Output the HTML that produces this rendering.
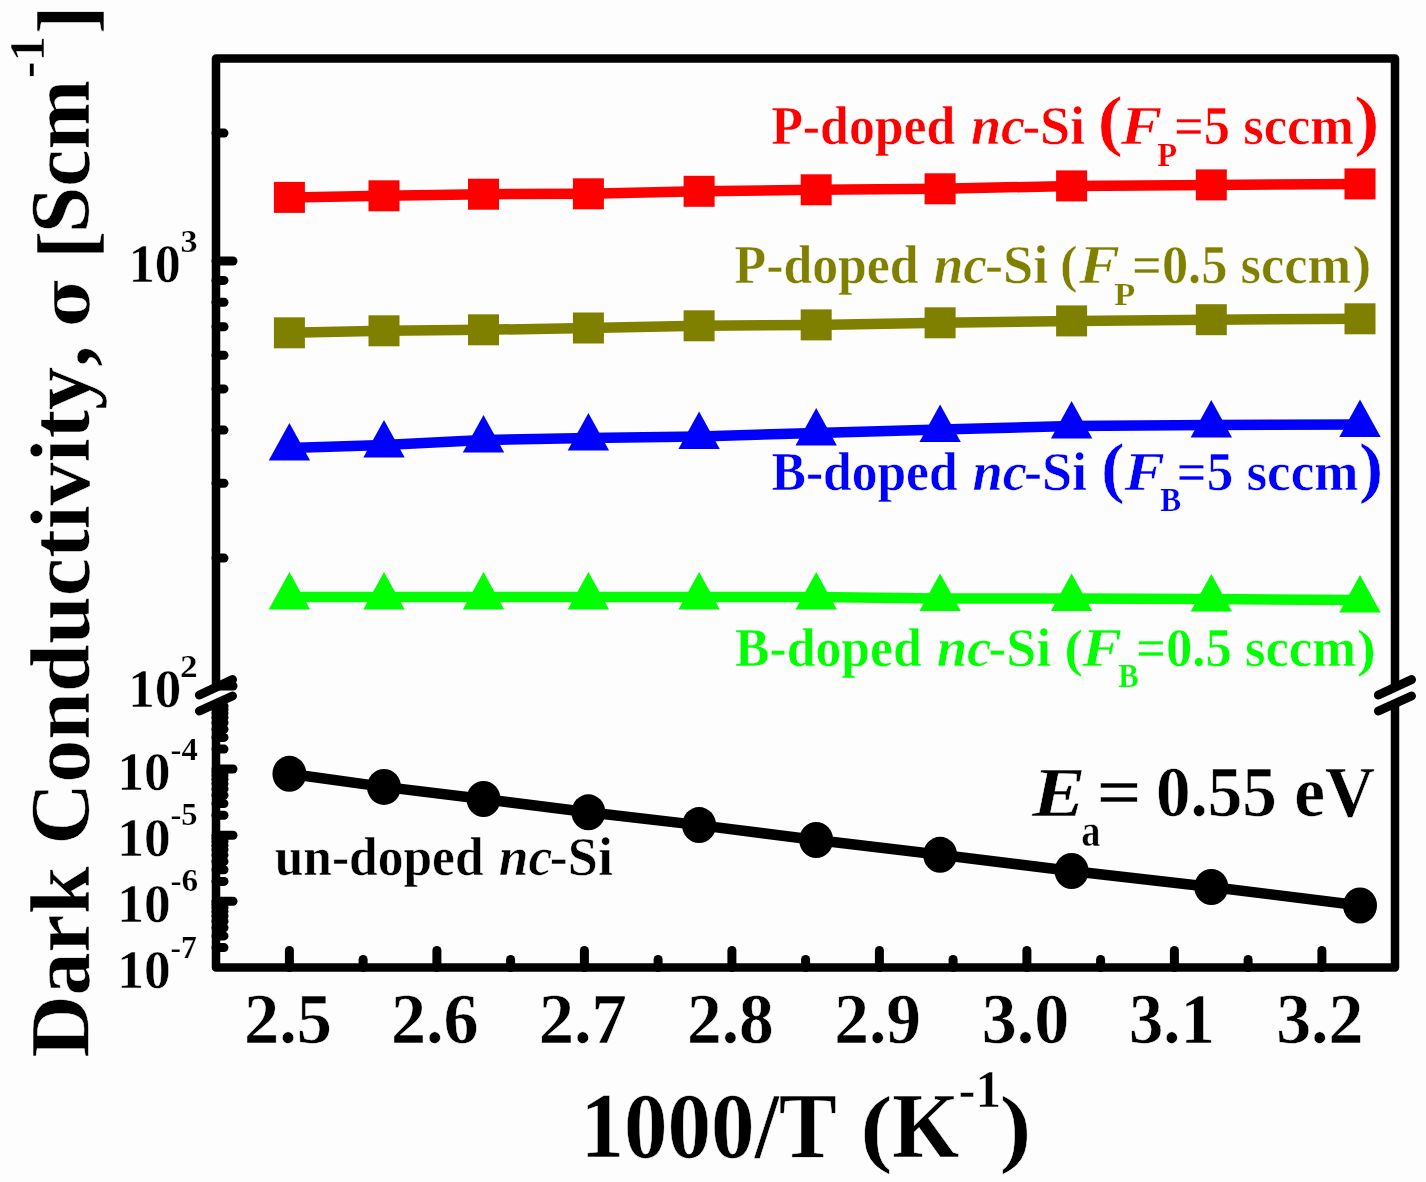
<!DOCTYPE html><html><head><meta charset="utf-8"><title>Dark conductivity vs 1000/T</title><style>html,body{margin:0;padding:0;background:#fdfdfd;overflow:hidden}svg{display:block;font-family:"Liberation Serif","Times New Roman",serif;font-weight:bold;font-kerning:none}</style></head><body>
<svg width="1426" height="1182" viewBox="0 0 1426 1182">
<rect width="1426" height="1182" fill="#fdfdfd"/>
<path d="M216 58.5H1395V967.5H216Z" fill="none" stroke="#000" stroke-width="8.5" stroke-linejoin="round"/>
<line x1="289.4" y1="967.5" x2="289.4" y2="950.5" stroke="#000" stroke-width="9" stroke-linecap="round"/>
<line x1="436.9" y1="967.5" x2="436.9" y2="950.5" stroke="#000" stroke-width="9" stroke-linecap="round"/>
<line x1="584.4" y1="967.5" x2="584.4" y2="950.5" stroke="#000" stroke-width="9" stroke-linecap="round"/>
<line x1="731.9" y1="967.5" x2="731.9" y2="950.5" stroke="#000" stroke-width="9" stroke-linecap="round"/>
<line x1="879.4" y1="967.5" x2="879.4" y2="950.5" stroke="#000" stroke-width="9" stroke-linecap="round"/>
<line x1="1026.9" y1="967.5" x2="1026.9" y2="950.5" stroke="#000" stroke-width="9" stroke-linecap="round"/>
<line x1="1174.4" y1="967.5" x2="1174.4" y2="950.5" stroke="#000" stroke-width="9" stroke-linecap="round"/>
<line x1="1321.9" y1="967.5" x2="1321.9" y2="950.5" stroke="#000" stroke-width="9" stroke-linecap="round"/>
<line x1="363.1" y1="967.5" x2="363.1" y2="959.5" stroke="#000" stroke-width="9" stroke-linecap="round"/>
<line x1="510.6" y1="967.5" x2="510.6" y2="959.5" stroke="#000" stroke-width="9" stroke-linecap="round"/>
<line x1="658.1" y1="967.5" x2="658.1" y2="959.5" stroke="#000" stroke-width="9" stroke-linecap="round"/>
<line x1="805.6" y1="967.5" x2="805.6" y2="959.5" stroke="#000" stroke-width="9" stroke-linecap="round"/>
<line x1="953.1" y1="967.5" x2="953.1" y2="959.5" stroke="#000" stroke-width="9" stroke-linecap="round"/>
<line x1="1100.6" y1="967.5" x2="1100.6" y2="959.5" stroke="#000" stroke-width="9" stroke-linecap="round"/>
<line x1="1248.1" y1="967.5" x2="1248.1" y2="959.5" stroke="#000" stroke-width="9" stroke-linecap="round"/>
<line x1="216.0" y1="261.0" x2="233.0" y2="261.0" stroke="#000" stroke-width="9" stroke-linecap="round"/>
<line x1="216.0" y1="558.1" x2="224.0" y2="558.1" stroke="#000" stroke-width="9" stroke-linecap="round"/>
<line x1="216.0" y1="483.2" x2="224.0" y2="483.2" stroke="#000" stroke-width="9" stroke-linecap="round"/>
<line x1="216.0" y1="430.1" x2="224.0" y2="430.1" stroke="#000" stroke-width="9" stroke-linecap="round"/>
<line x1="216.0" y1="388.9" x2="224.0" y2="388.9" stroke="#000" stroke-width="9" stroke-linecap="round"/>
<line x1="216.0" y1="355.3" x2="224.0" y2="355.3" stroke="#000" stroke-width="9" stroke-linecap="round"/>
<line x1="216.0" y1="326.8" x2="224.0" y2="326.8" stroke="#000" stroke-width="9" stroke-linecap="round"/>
<line x1="216.0" y1="302.2" x2="224.0" y2="302.2" stroke="#000" stroke-width="9" stroke-linecap="round"/>
<line x1="216.0" y1="280.4" x2="224.0" y2="280.4" stroke="#000" stroke-width="9" stroke-linecap="round"/>
<line x1="216.0" y1="133.1" x2="224.0" y2="133.1" stroke="#000" stroke-width="9" stroke-linecap="round"/>
<line x1="216.0" y1="769.0" x2="233.0" y2="769.0" stroke="#000" stroke-width="9" stroke-linecap="round"/>
<line x1="216.0" y1="835.2" x2="233.0" y2="835.2" stroke="#000" stroke-width="9" stroke-linecap="round"/>
<line x1="216.0" y1="901.3" x2="233.0" y2="901.3" stroke="#000" stroke-width="9" stroke-linecap="round"/>
<line x1="216.0" y1="749.1" x2="224.0" y2="749.1" stroke="#000" stroke-width="9" stroke-linecap="round"/>
<line x1="216.0" y1="737.4" x2="224.0" y2="737.4" stroke="#000" stroke-width="9" stroke-linecap="round"/>
<line x1="216.0" y1="729.2" x2="224.0" y2="729.2" stroke="#000" stroke-width="9" stroke-linecap="round"/>
<line x1="216.0" y1="722.7" x2="224.0" y2="722.7" stroke="#000" stroke-width="9" stroke-linecap="round"/>
<line x1="216.0" y1="717.5" x2="224.0" y2="717.5" stroke="#000" stroke-width="9" stroke-linecap="round"/>
<line x1="216.0" y1="713.1" x2="224.0" y2="713.1" stroke="#000" stroke-width="9" stroke-linecap="round"/>
<line x1="216.0" y1="709.2" x2="224.0" y2="709.2" stroke="#000" stroke-width="9" stroke-linecap="round"/>
<line x1="216.0" y1="705.9" x2="224.0" y2="705.9" stroke="#000" stroke-width="9" stroke-linecap="round"/>
<line x1="216.0" y1="815.3" x2="224.0" y2="815.3" stroke="#000" stroke-width="9" stroke-linecap="round"/>
<line x1="216.0" y1="803.6" x2="224.0" y2="803.6" stroke="#000" stroke-width="9" stroke-linecap="round"/>
<line x1="216.0" y1="795.3" x2="224.0" y2="795.3" stroke="#000" stroke-width="9" stroke-linecap="round"/>
<line x1="216.0" y1="788.9" x2="224.0" y2="788.9" stroke="#000" stroke-width="9" stroke-linecap="round"/>
<line x1="216.0" y1="783.7" x2="224.0" y2="783.7" stroke="#000" stroke-width="9" stroke-linecap="round"/>
<line x1="216.0" y1="779.2" x2="224.0" y2="779.2" stroke="#000" stroke-width="9" stroke-linecap="round"/>
<line x1="216.0" y1="775.4" x2="224.0" y2="775.4" stroke="#000" stroke-width="9" stroke-linecap="round"/>
<line x1="216.0" y1="772.0" x2="224.0" y2="772.0" stroke="#000" stroke-width="9" stroke-linecap="round"/>
<line x1="216.0" y1="881.4" x2="224.0" y2="881.4" stroke="#000" stroke-width="9" stroke-linecap="round"/>
<line x1="216.0" y1="869.8" x2="224.0" y2="869.8" stroke="#000" stroke-width="9" stroke-linecap="round"/>
<line x1="216.0" y1="861.5" x2="224.0" y2="861.5" stroke="#000" stroke-width="9" stroke-linecap="round"/>
<line x1="216.0" y1="855.1" x2="224.0" y2="855.1" stroke="#000" stroke-width="9" stroke-linecap="round"/>
<line x1="216.0" y1="849.8" x2="224.0" y2="849.8" stroke="#000" stroke-width="9" stroke-linecap="round"/>
<line x1="216.0" y1="845.4" x2="224.0" y2="845.4" stroke="#000" stroke-width="9" stroke-linecap="round"/>
<line x1="216.0" y1="841.6" x2="224.0" y2="841.6" stroke="#000" stroke-width="9" stroke-linecap="round"/>
<line x1="216.0" y1="838.2" x2="224.0" y2="838.2" stroke="#000" stroke-width="9" stroke-linecap="round"/>
<line x1="216.0" y1="947.6" x2="224.0" y2="947.6" stroke="#000" stroke-width="9" stroke-linecap="round"/>
<line x1="216.0" y1="935.9" x2="224.0" y2="935.9" stroke="#000" stroke-width="9" stroke-linecap="round"/>
<line x1="216.0" y1="927.7" x2="224.0" y2="927.7" stroke="#000" stroke-width="9" stroke-linecap="round"/>
<line x1="216.0" y1="921.3" x2="224.0" y2="921.3" stroke="#000" stroke-width="9" stroke-linecap="round"/>
<line x1="216.0" y1="916.0" x2="224.0" y2="916.0" stroke="#000" stroke-width="9" stroke-linecap="round"/>
<line x1="216.0" y1="911.6" x2="224.0" y2="911.6" stroke="#000" stroke-width="9" stroke-linecap="round"/>
<line x1="216.0" y1="907.8" x2="224.0" y2="907.8" stroke="#000" stroke-width="9" stroke-linecap="round"/>
<line x1="216.0" y1="904.4" x2="224.0" y2="904.4" stroke="#000" stroke-width="9" stroke-linecap="round"/>
<polygon points="199.4,696 232.5,680.6 232.5,695 199.4,710" fill="#fdfdfd"/>
<line x1="199.4" y1="695" x2="232.5" y2="679.6" stroke="#000" stroke-width="9" stroke-linecap="round"/>
<line x1="199.4" y1="711" x2="232.5" y2="696" stroke="#000" stroke-width="9" stroke-linecap="round"/>
<polygon points="1378.4,696 1411.5,680.6 1411.5,695 1378.4,710" fill="#fdfdfd"/>
<line x1="1378.4" y1="695" x2="1411.5" y2="679.6" stroke="#000" stroke-width="9" stroke-linecap="round"/>
<line x1="1378.4" y1="711" x2="1411.5" y2="696" stroke="#000" stroke-width="9" stroke-linecap="round"/>
<line x1="216.0" y1="686.0" x2="233.0" y2="686.0" stroke="#000" stroke-width="9" stroke-linecap="round"/>
<polyline points="289.4,197.4 384.0,195.8 483.5,194.2 588.4,193.8 699.1,191.3 816.2,189.8 940.1,188.8 1071.6,185.9 1211.3,184.9 1360.0,183.9" fill="none" stroke="#ff0000" stroke-width="10.5"/>
<polyline points="289.4,332.8 384.0,330.8 483.5,329.8 588.4,328.0 699.1,325.8 816.2,324.9 940.1,322.8 1071.6,320.9 1211.3,319.7 1360.0,318.8" fill="none" stroke="#808000" stroke-width="10.5"/>
<polyline points="289.4,448.1 384.0,445.1 483.5,440.0 588.4,438.0 699.1,436.5 816.2,433.0 940.1,429.5 1071.6,426.0 1211.3,425.0 1360.0,424.5" fill="none" stroke="#0000ff" stroke-width="10.5"/>
<polyline points="289.4,597.0 384.0,597.0 483.5,597.0 588.4,597.0 699.1,597.0 816.2,597.0 940.1,598.5 1071.6,598.5 1211.3,599.0 1360.0,600.0" fill="none" stroke="#00ff00" stroke-width="10.5"/>
<polyline points="289.4,773.8 384.0,786.9 483.5,799.0 588.4,812.3 699.1,825.1 816.2,840.0 940.1,854.8 1071.6,871.0 1211.3,887.0 1360.0,905.5" fill="none" stroke="#000" stroke-width="10.5"/>
<rect x="273.9" y="181.9" width="31" height="31" fill="#ff0000"/>
<rect x="368.5" y="180.3" width="31" height="31" fill="#ff0000"/>
<rect x="468.0" y="178.7" width="31" height="31" fill="#ff0000"/>
<rect x="572.9" y="178.3" width="31" height="31" fill="#ff0000"/>
<rect x="683.6" y="175.8" width="31" height="31" fill="#ff0000"/>
<rect x="800.7" y="174.3" width="31" height="31" fill="#ff0000"/>
<rect x="924.6" y="173.3" width="31" height="31" fill="#ff0000"/>
<rect x="1056.1" y="170.4" width="31" height="31" fill="#ff0000"/>
<rect x="1195.8" y="169.4" width="31" height="31" fill="#ff0000"/>
<rect x="1344.5" y="168.4" width="31" height="31" fill="#ff0000"/>
<rect x="273.9" y="317.3" width="31" height="31" fill="#808000"/>
<rect x="368.5" y="315.3" width="31" height="31" fill="#808000"/>
<rect x="468.0" y="314.3" width="31" height="31" fill="#808000"/>
<rect x="572.9" y="312.5" width="31" height="31" fill="#808000"/>
<rect x="683.6" y="310.3" width="31" height="31" fill="#808000"/>
<rect x="800.7" y="309.4" width="31" height="31" fill="#808000"/>
<rect x="924.6" y="307.3" width="31" height="31" fill="#808000"/>
<rect x="1056.1" y="305.4" width="31" height="31" fill="#808000"/>
<rect x="1195.8" y="304.2" width="31" height="31" fill="#808000"/>
<rect x="1344.5" y="303.3" width="31" height="31" fill="#808000"/>
<polygon points="289.4,423.1 310.1,460.6 268.7,460.6" fill="#0000ff"/>
<polygon points="384.0,420.1 404.7,457.6 363.3,457.6" fill="#0000ff"/>
<polygon points="483.5,415.0 504.2,452.5 462.8,452.5" fill="#0000ff"/>
<polygon points="588.4,413.0 609.1,450.5 567.7,450.5" fill="#0000ff"/>
<polygon points="699.1,411.5 719.8,449.0 678.4,449.0" fill="#0000ff"/>
<polygon points="816.2,408.0 836.9,445.5 795.5,445.5" fill="#0000ff"/>
<polygon points="940.1,404.5 960.8,442.0 919.4,442.0" fill="#0000ff"/>
<polygon points="1071.6,401.0 1092.3,438.5 1050.9,438.5" fill="#0000ff"/>
<polygon points="1211.3,400.0 1232.0,437.5 1190.6,437.5" fill="#0000ff"/>
<polygon points="1360.0,399.5 1380.7,437.0 1339.3,437.0" fill="#0000ff"/>
<polygon points="289.4,572.0 310.1,609.5 268.7,609.5" fill="#00ff00"/>
<polygon points="384.0,572.0 404.7,609.5 363.3,609.5" fill="#00ff00"/>
<polygon points="483.5,572.0 504.2,609.5 462.8,609.5" fill="#00ff00"/>
<polygon points="588.4,572.0 609.1,609.5 567.7,609.5" fill="#00ff00"/>
<polygon points="699.1,572.0 719.8,609.5 678.4,609.5" fill="#00ff00"/>
<polygon points="816.2,572.0 836.9,609.5 795.5,609.5" fill="#00ff00"/>
<polygon points="940.1,573.5 960.8,611.0 919.4,611.0" fill="#00ff00"/>
<polygon points="1071.6,573.5 1092.3,611.0 1050.9,611.0" fill="#00ff00"/>
<polygon points="1211.3,574.0 1232.0,611.5 1190.6,611.5" fill="#00ff00"/>
<polygon points="1360.0,575.0 1380.7,612.5 1339.3,612.5" fill="#00ff00"/>
<ellipse cx="289.4" cy="773.8" rx="17" ry="18" fill="#000"/>
<ellipse cx="384.0" cy="786.9" rx="17" ry="18" fill="#000"/>
<ellipse cx="483.5" cy="799.0" rx="17" ry="18" fill="#000"/>
<ellipse cx="588.4" cy="812.3" rx="17" ry="18" fill="#000"/>
<ellipse cx="699.1" cy="825.1" rx="17" ry="18" fill="#000"/>
<ellipse cx="816.2" cy="840.0" rx="17" ry="18" fill="#000"/>
<ellipse cx="940.1" cy="854.8" rx="17" ry="18" fill="#000"/>
<ellipse cx="1071.6" cy="871.0" rx="17" ry="18" fill="#000"/>
<ellipse cx="1211.3" cy="887.0" rx="17" ry="18" fill="#000"/>
<ellipse cx="1360.0" cy="905.5" rx="17" ry="18" fill="#000"/>
<text x="244.10" y="1043.00" font-size="71.2" fill="#000" stroke="#fdfdfd" stroke-width="0.5" textLength="87.93" lengthAdjust="spacingAndGlyphs">2.5</text>
<text x="391.01" y="1043.00" font-size="71.2" fill="#000" stroke="#fdfdfd" stroke-width="0.5" textLength="87.60" lengthAdjust="spacingAndGlyphs">2.6</text>
<text x="538.69" y="1043.00" font-size="71.2" fill="#000" stroke="#fdfdfd" stroke-width="0.5" textLength="88.18" lengthAdjust="spacingAndGlyphs">2.7</text>
<text x="686.93" y="1043.00" font-size="71.2" fill="#000" stroke="#fdfdfd" stroke-width="0.5" textLength="86.82" lengthAdjust="spacingAndGlyphs">2.8</text>
<text x="834.23" y="1043.00" font-size="71.2" fill="#000" stroke="#fdfdfd" stroke-width="0.5" textLength="86.83" lengthAdjust="spacingAndGlyphs">2.9</text>
<text x="981.72" y="1043.00" font-size="71.2" fill="#000" stroke="#fdfdfd" stroke-width="0.5" textLength="87.50" lengthAdjust="spacingAndGlyphs">3.0</text>
<text x="1129.07" y="1043.00" font-size="71.2" fill="#000" stroke="#fdfdfd" stroke-width="0.5" textLength="85.73" lengthAdjust="spacingAndGlyphs">3.1</text>
<text x="1276.13" y="1043.00" font-size="71.2" fill="#000" stroke="#fdfdfd" stroke-width="0.5" textLength="87.22" lengthAdjust="spacingAndGlyphs">3.2</text>
<text x="128.68" y="281.80" font-size="55.4" fill="#000" stroke="#fdfdfd" stroke-width="0.5" textLength="52.05" lengthAdjust="spacingAndGlyphs">10</text>
<text x="180.50" y="251.70" font-size="31.5" fill="#000" stroke="#fdfdfd" stroke-width="0.225" textLength="17.08" lengthAdjust="spacingAndGlyphs">3</text>
<text x="128.30" y="706.90" font-size="55.4" fill="#000" stroke="#fdfdfd" stroke-width="0.5" textLength="53.07" lengthAdjust="spacingAndGlyphs">10</text>
<text x="179.91" y="676.80" font-size="31.5" fill="#000" stroke="#fdfdfd" stroke-width="0.225" textLength="17.62" lengthAdjust="spacingAndGlyphs">2</text>
<text x="117.41" y="789.90" font-size="55.4" fill="#000" stroke="#fdfdfd" stroke-width="0.5" textLength="52.96" lengthAdjust="spacingAndGlyphs">10</text>
<text x="170.60" y="759.80" font-size="31.5" fill="#000" stroke="#fdfdfd" stroke-width="0.225" textLength="27.12" lengthAdjust="spacingAndGlyphs">-4</text>
<text x="117.27" y="855.50" font-size="55.4" fill="#000" stroke="#fdfdfd" stroke-width="0.5" textLength="53.41" lengthAdjust="spacingAndGlyphs">10</text>
<text x="170.50" y="825.40" font-size="31.5" fill="#000" stroke="#fdfdfd" stroke-width="0.225" textLength="27.11" lengthAdjust="spacingAndGlyphs">-5</text>
<text x="117.27" y="921.50" font-size="55.4" fill="#000" stroke="#fdfdfd" stroke-width="0.5" textLength="53.41" lengthAdjust="spacingAndGlyphs">10</text>
<text x="170.47" y="891.40" font-size="31.5" fill="#000" stroke="#fdfdfd" stroke-width="0.225" textLength="27.72" lengthAdjust="spacingAndGlyphs">-6</text>
<text x="117.27" y="987.80" font-size="55.4" fill="#000" stroke="#fdfdfd" stroke-width="0.5" textLength="53.41" lengthAdjust="spacingAndGlyphs">10</text>
<text x="170.53" y="957.70" font-size="31.5" fill="#000" stroke="#fdfdfd" stroke-width="0.225" textLength="26.36" lengthAdjust="spacingAndGlyphs">-7</text>
<text x="771.16" y="143.90" font-size="55" fill="#ff0000" stroke="#fdfdfd" stroke-width="0.5" textLength="184.27" lengthAdjust="spacingAndGlyphs">P-doped</text>
<text x="970.94" y="143.90" font-size="55" fill="#ff0000" font-style="italic" stroke="#fdfdfd" stroke-width="0.5" textLength="54.10" lengthAdjust="spacingAndGlyphs">nc</text>
<text x="1022.18" y="143.90" font-size="55" fill="#ff0000" stroke="#fdfdfd" stroke-width="0.5" textLength="62.86" lengthAdjust="spacingAndGlyphs">-Si</text>
<text x="1097.41" y="143.30" font-size="68.4" fill="#ff0000" stroke="#fdfdfd" stroke-width="0.5" textLength="25.28" lengthAdjust="spacingAndGlyphs">(</text>
<text x="1120.81" y="143.90" font-size="55" fill="#ff0000" font-style="italic" stroke="#fdfdfd" stroke-width="0.5" textLength="41.47" lengthAdjust="spacingAndGlyphs">F</text>
<text x="1157.23" y="165.90" font-size="33.5" fill="#ff0000" stroke="#fdfdfd" stroke-width="0.225" textLength="19.90" lengthAdjust="spacingAndGlyphs">P</text>
<text x="1173.94" y="143.90" font-size="55" fill="#ff0000" stroke="#fdfdfd" stroke-width="0.5" textLength="180.01" lengthAdjust="spacingAndGlyphs">=5 sccm</text>
<text x="1354.30" y="143.30" font-size="68.4" fill="#ff0000" stroke="#fdfdfd" stroke-width="0.5" textLength="25.28" lengthAdjust="spacingAndGlyphs">)</text>
<text x="734.57" y="283.10" font-size="55" fill="#808000" stroke="#fdfdfd" stroke-width="0.5" textLength="184.07" lengthAdjust="spacingAndGlyphs">P-doped</text>
<text x="933.76" y="283.10" font-size="55" fill="#808000" font-style="italic" stroke="#fdfdfd" stroke-width="0.5" textLength="53.17" lengthAdjust="spacingAndGlyphs">nc</text>
<text x="984.96" y="283.10" font-size="55" fill="#808000" stroke="#fdfdfd" stroke-width="0.5" textLength="63.28" lengthAdjust="spacingAndGlyphs">-Si</text>
<text x="1060.12" y="282.20" font-size="52.6" fill="#808000" stroke="#fdfdfd" stroke-width="0.5" textLength="17.63" lengthAdjust="spacingAndGlyphs">(</text>
<text x="1079.11" y="283.10" font-size="55" fill="#808000" font-style="italic" stroke="#fdfdfd" stroke-width="0.5" textLength="40.86" lengthAdjust="spacingAndGlyphs">F</text>
<text x="1114.30" y="304.60" font-size="32" fill="#808000" stroke="#fdfdfd" stroke-width="0.225" textLength="20.99" lengthAdjust="spacingAndGlyphs">P</text>
<text x="1132.04" y="283.10" font-size="55" fill="#808000" stroke="#fdfdfd" stroke-width="0.5" textLength="219.11" lengthAdjust="spacingAndGlyphs">=0.5 sccm</text>
<text x="1352.19" y="282.20" font-size="52.6" fill="#808000" stroke="#fdfdfd" stroke-width="0.5" textLength="19.19" lengthAdjust="spacingAndGlyphs">)</text>
<text x="771.60" y="489.80" font-size="55" fill="#0000ff" stroke="#fdfdfd" stroke-width="0.5" textLength="186.03" lengthAdjust="spacingAndGlyphs">B-doped</text>
<text x="972.53" y="489.80" font-size="55" fill="#0000ff" font-style="italic" stroke="#fdfdfd" stroke-width="0.5" textLength="54.41" lengthAdjust="spacingAndGlyphs">nc</text>
<text x="1023.97" y="489.80" font-size="55" fill="#0000ff" stroke="#fdfdfd" stroke-width="0.5" textLength="62.97" lengthAdjust="spacingAndGlyphs">-Si</text>
<text x="1100.94" y="489.85" font-size="68.4" fill="#0000ff" stroke="#fdfdfd" stroke-width="0.5" textLength="23.60" lengthAdjust="spacingAndGlyphs">(</text>
<text x="1124.51" y="489.80" font-size="55" fill="#0000ff" font-style="italic" stroke="#fdfdfd" stroke-width="0.5" textLength="40.35" lengthAdjust="spacingAndGlyphs">F</text>
<text x="1160.27" y="510.80" font-size="33.5" fill="#0000ff" stroke="#fdfdfd" stroke-width="0.225" textLength="20.92" lengthAdjust="spacingAndGlyphs">B</text>
<text x="1176.51" y="489.80" font-size="55" fill="#0000ff" stroke="#fdfdfd" stroke-width="0.5" textLength="181.85" lengthAdjust="spacingAndGlyphs">=5 sccm</text>
<text x="1358.77" y="489.85" font-size="68.4" fill="#0000ff" stroke="#fdfdfd" stroke-width="0.5" textLength="24.63" lengthAdjust="spacingAndGlyphs">)</text>
<text x="735.09" y="665.50" font-size="55" fill="#00ff00" stroke="#fdfdfd" stroke-width="0.5" textLength="186.64" lengthAdjust="spacingAndGlyphs">B-doped</text>
<text x="936.63" y="665.50" font-size="55" fill="#00ff00" font-style="italic" stroke="#fdfdfd" stroke-width="0.5" textLength="54.83" lengthAdjust="spacingAndGlyphs">nc</text>
<text x="988.28" y="665.50" font-size="55" fill="#00ff00" stroke="#fdfdfd" stroke-width="0.5" textLength="62.86" lengthAdjust="spacingAndGlyphs">-Si</text>
<text x="1064.17" y="666.40" font-size="52.3" fill="#00ff00" stroke="#fdfdfd" stroke-width="0.5" textLength="18.80" lengthAdjust="spacingAndGlyphs">(</text>
<text x="1082.11" y="665.50" font-size="55" fill="#00ff00" font-style="italic" stroke="#fdfdfd" stroke-width="0.5" textLength="40.04" lengthAdjust="spacingAndGlyphs">F</text>
<text x="1118.18" y="686.60" font-size="32.7" fill="#00ff00" stroke="#fdfdfd" stroke-width="0.225" textLength="20.49" lengthAdjust="spacingAndGlyphs">B</text>
<text x="1136.03" y="665.50" font-size="55" fill="#00ff00" stroke="#fdfdfd" stroke-width="0.5" textLength="220.02" lengthAdjust="spacingAndGlyphs">=0.5 sccm</text>
<text x="1356.69" y="666.40" font-size="52.3" fill="#00ff00" stroke="#fdfdfd" stroke-width="0.5" textLength="19.19" lengthAdjust="spacingAndGlyphs">)</text>
<text x="274.67" y="874.50" font-size="55" fill="#000" stroke="#fdfdfd" stroke-width="0.5" textLength="208.86" lengthAdjust="spacingAndGlyphs">un-doped</text>
<text x="498.65" y="874.50" font-size="55" fill="#000" font-style="italic" stroke="#fdfdfd" stroke-width="0.5" textLength="53.48" lengthAdjust="spacingAndGlyphs">nc</text>
<text x="549.87" y="874.50" font-size="55" fill="#000" stroke="#fdfdfd" stroke-width="0.5" textLength="63.07" lengthAdjust="spacingAndGlyphs">-Si</text>
<text x="1032.24" y="815.50" font-size="70" fill="#000" font-style="italic" stroke="#fdfdfd" stroke-width="0.5" textLength="53.45" lengthAdjust="spacingAndGlyphs">E</text>
<text x="1081.31" y="846.20" font-size="46" fill="#000" stroke="#fdfdfd" stroke-width="0.5" textLength="19.22" lengthAdjust="spacingAndGlyphs">a</text>
<text x="1096.50" y="815.80" font-size="71" fill="#000" stroke="#fdfdfd" stroke-width="0.5" textLength="45.23" lengthAdjust="spacingAndGlyphs">=</text>
<text x="1155.92" y="816.20" font-size="71" fill="#000" stroke="#fdfdfd" stroke-width="0.5" textLength="218.91" lengthAdjust="spacingAndGlyphs">0.55 eV</text>
<text x="580.58" y="1156.90" font-size="92.3" fill="#000" stroke="#fdfdfd" stroke-width="0.5" textLength="256.29" lengthAdjust="spacingAndGlyphs">1000/T</text>
<text x="860.29" y="1155.90" font-size="86.2" fill="#000" stroke="#fdfdfd" stroke-width="0.5" textLength="32.28" lengthAdjust="spacingAndGlyphs">(</text>
<text x="892.18" y="1156.80" font-size="92.3" fill="#000" stroke="#fdfdfd" stroke-width="0.5" textLength="66.94" lengthAdjust="spacingAndGlyphs">K</text>
<text x="958.58" y="1106.70" font-size="53.6" fill="#000" stroke="#fdfdfd" stroke-width="0.5" textLength="42.51" lengthAdjust="spacingAndGlyphs">-1</text>
<text x="999.46" y="1155.90" font-size="86.2" fill="#000" stroke="#fdfdfd" stroke-width="0.5" textLength="31.90" lengthAdjust="spacingAndGlyphs">)</text>
<text transform="rotate(-90)" x="-1057.56" y="88.90" font-size="85" fill="#000" stroke="#fdfdfd" stroke-width="0.5" textLength="712.19" lengthAdjust="spacingAndGlyphs">Dark Conductivity,</text>
<text transform="rotate(-90)" x="-326.81" y="88.60" font-size="66.5" fill="#000" font-family="DejaVu Serif, serif" stroke="#fdfdfd" stroke-width="0.5" textLength="49.53" lengthAdjust="spacingAndGlyphs">σ</text>
<text transform="rotate(-90)" x="-259.32" y="93.00" font-size="80.6" fill="#000" stroke="#fdfdfd" stroke-width="0.5" textLength="28.57" lengthAdjust="spacingAndGlyphs">[</text>
<text transform="rotate(-90)" x="-233.21" y="88.90" font-size="85" fill="#000" stroke="#fdfdfd" stroke-width="0.5" textLength="153.49" lengthAdjust="spacingAndGlyphs">Scm</text>
<text transform="rotate(-90)" x="-77.88" y="44.30" font-size="51.7" fill="#000" stroke="#fdfdfd" stroke-width="0.5" textLength="41.73" lengthAdjust="spacingAndGlyphs">-1</text>
<text transform="rotate(-90)" x="-34.38" y="93.00" font-size="80.6" fill="#000" stroke="#fdfdfd" stroke-width="0.5" textLength="28.87" lengthAdjust="spacingAndGlyphs">]</text>
</svg></body></html>
